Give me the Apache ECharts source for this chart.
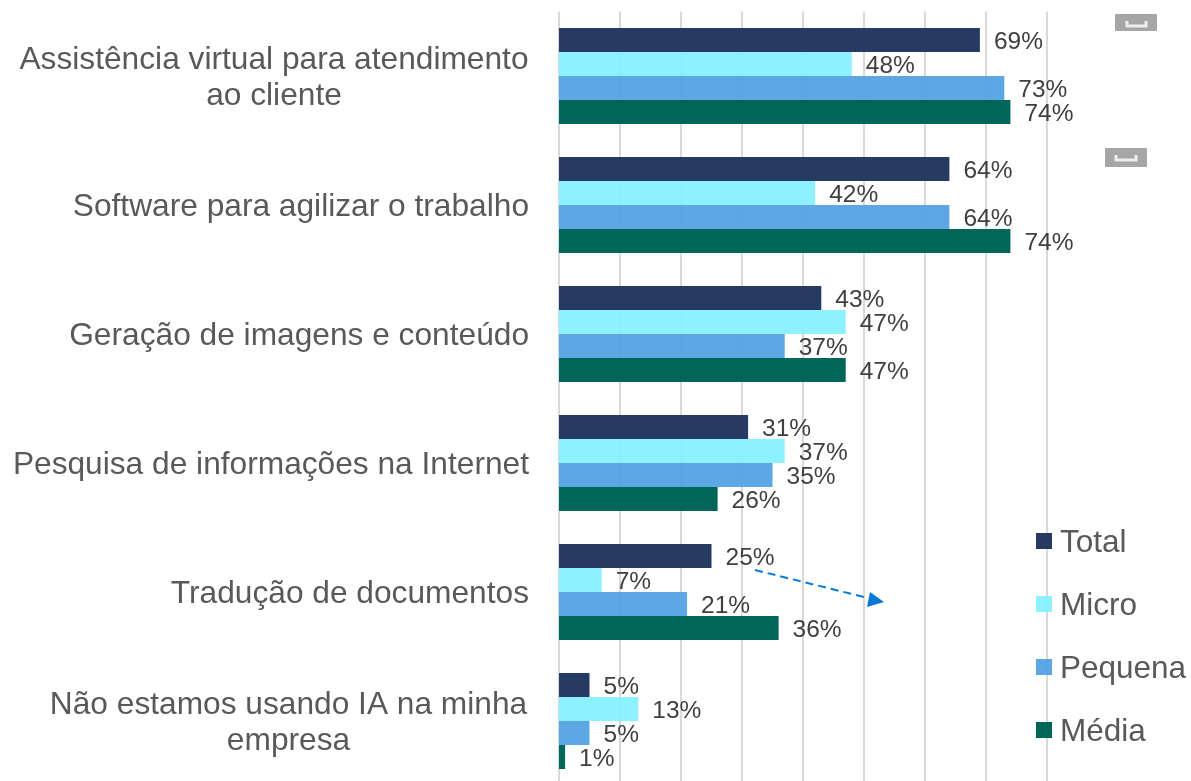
<!DOCTYPE html>
<html>
<head>
<meta charset="utf-8">
<style>html,body{margin:0;padding:0;background:#fff;overflow:hidden;height:781px}#c{width:1191px;height:800px}</style>
<script src="https://cdn.jsdelivr.net/npm/echarts@6/dist/echarts.min.js"></script>
</head>
<body>
<div id="c"></div>
<script>
const categories = [
  "Assistência virtual para atendimento\nao cliente",
  "Software para agilizar o trabalho",
  "Geração de imagens e conteúdo",
  "Pesquisa de informações na Internet",
  "Tradução de documentos",
  "Não estamos usando IA na minha\nempresa"
];
const total   = [69, 64, 43, 31, 25, 5];
const micro   = [48, 42, 47, 37, 7, 13];
const pequena = [73, 64, 37, 35, 21, 5];
const media   = [74, 74, 47, 26, 36, 1];

const FONT = '"Liberation Sans", Arial, sans-serif';
const CAT = { fontFamily: FONT, fontSize: 31.7, color: '#595959', lineHeight: 36 };
const mk = (name, data, color) => ({
  name, type: 'bar', data, barWidth: 24, barGap: '0%',
  itemStyle: { color },
  label: { show: true, position: 'right', distance: 14, formatter: '{c}%', fontFamily: FONT, fontSize: 24.5, color: '#404040', offset: [0, 2] }
});
function iconParts(h, a, b) {
  return [
    { type: 'rect', shape: { x: 0, y: 0, width: 42, height: h, r: 1 }, style: { fill: '#a6a6a6' } },
    { type: 'polyline', shape: { points: [[a, 7], [a, 12], [b, 12], [b, 7]] }, style: { stroke: '#eeeeee', lineWidth: 3, fill: null } }
  ];
}
const chart = echarts.init(document.getElementById('c'), null, { renderer: 'canvas' });
chart.setOption({
  animation: false,
  backgroundColor: '#fff',
  grid: { left: 559, top: 11.5, width: 488, height: 774, containLabel: false },
  xAxis: {
    type: 'value', min: 0, max: 80, interval: 10,
    axisLabel: { show: false }, axisLine: { show: false }, axisTick: { show: false },
    splitLine: { show: true, lineStyle: { color: '#d9d9d9', width: 2 } }
  },
  yAxis: {
    type: 'category', inverse: true, data: categories,
    axisLine: { show: false }, axisTick: { show: false },
    axisLabel: Object.assign({}, CAT, {
      margin: 30, align: 'right', padding: [4, 0, 0, 0],
      formatter: v => {
        const parts = v.split('\n');
        if (parts.length === 1) return v;
        const tok = parts[0].length > 32 ? 'long' : 'short';
        return parts.map(p => `{${tok}|${p}}`).join('\n');
      },
      rich: {
        long: Object.assign({ width: 510, align: 'center' }, CAT),
        short: Object.assign({ width: 481, align: 'center' }, CAT)
      }
    })
  },
  legend: {
    orient: 'vertical', left: 1031, top: 518, itemWidth: 16, itemHeight: 16, itemGap: 27, icon: 'rect',
    formatter: n => `{t|${n}}`,
    textStyle: {
      fontFamily: FONT, fontSize: 31.5, color: '#595959',
      rich: { t: { fontFamily: FONT, fontSize: 31.5, color: '#595959', lineHeight: 32, padding: [4, 0, 0, 3] } }
    }
  },
  series: [
    mk('Total', total, '#263a62'),
    mk('Micro', micro, 'rgba(136,240,255,0.95)'),
    mk('Pequena', pequena, 'rgba(80,160,226,0.93)'),
    mk('Média', media, '#00665a')
  ],
  graphic: [
    { type: 'group', left: 1115, top: 14, silent: true, children: iconParts(17, 12, 31) },
    { type: 'group', left: 1105, top: 148, silent: true, children: iconParts(19, 11, 31) },
    { type: 'line', silent: true, z: 50, shape: { x1: 755, y1: 570, x2: 868, y2: 598 }, style: { stroke: '#0a78d7', lineWidth: 2, lineDash: [8, 5] } },
    { type: 'polygon', silent: true, z: 50, shape: { points: [[884, 602], [867, 607], [870, 592]] }, style: { fill: '#0a78d7' } }
  ]
});
</script>
</body>
</html>
